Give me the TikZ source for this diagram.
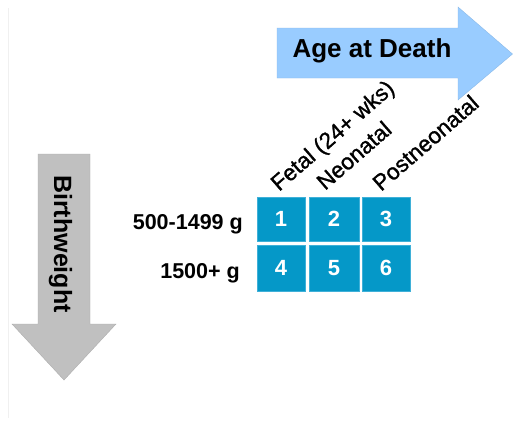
\documentclass[tikz,border=0pt]{standalone}
\usepackage{fontspec}
\setmainfont{Liberation Sans}
\newfontfamily\labfont{Liberation Sans}[FakeBold=1.2]
\definecolor{cellblue}{HTML}{0598C8}
\definecolor{celledge}{HTML}{3FB0D8}
\definecolor{arrowblue}{HTML}{99CCFF}
\definecolor{arrowgray}{HTML}{C0C0C0}
\definecolor{faint}{HTML}{F0F0F0}
\begin{document}
\begin{tikzpicture}[x=1pt,y=-1pt,
  cell/.style={fill=cellblue,draw=celledge,line width=0.6pt,text=white,
    font=\fontsize{22}{24}\selectfont\bfseries},
  rowlab/.style={font=\fontsize{21.5}{24}\selectfont\bfseries,anchor=base east,inner sep=0pt},
  collab/.style={font=\fontsize{22.5}{24}\labfont,anchor=base west,rotate=41,inner sep=0pt},
  arrowlab/.style={font=\fontsize{26}{30}\selectfont\bfseries,inner sep=0pt}]
\useasboundingbox (0,0) rectangle (513,423);
\fill[white] (0,0) rectangle (513,423);
\draw[faint,line width=0.8pt] (8.5,8) -- (8.5,418);
% blue arrow
\filldraw[fill=arrowblue,draw=arrowblue!85!black!60!arrowblue,line width=0.4pt]
  (277,28) -- (458,28) -- (458,7) -- (512.5,54) -- (458,100) -- (458,78) -- (277,78) -- cycle;
\node[arrowlab,anchor=base] (age) at (372,57) {Age at Death};
% gray arrow
\filldraw[fill=arrowgray,draw=arrowgray!90!black,line width=0.4pt]
  (38,154) -- (90,154) -- (90,324) -- (116,324) -- (64,380) -- (12,324) -- (38,324) -- cycle;
\node[arrowlab,anchor=base,rotate=-90,font=\fontsize{25}{30}\selectfont\bfseries] (bw) at (54,244) {Birthweight};
% cells
\node[cell,minimum width=48pt,minimum height=44pt] (c1) at (281,219) {1};
\node[cell,minimum width=50pt,minimum height=44pt] (c2) at (334,219) {2};
\node[cell,minimum width=48pt,minimum height=44pt] (c3) at (386,219) {3};
\node[cell,minimum width=48pt,minimum height=46pt] (c4) at (281,268) {4};
\node[cell,minimum width=50pt,minimum height=46pt] (c5) at (334,268) {5};
\node[cell,minimum width=48pt,minimum height=46pt] (c6) at (386,268) {6};
% row labels
\node[rowlab] (r1) at (243,229) {500-1499 g};
\node[rowlab] (r2) at (240,278) {1500+ g};
% column labels
\node[collab] (l1) at (279,192) {Fetal (24+ wks)};
\node[collab] (l2) at (325,191) {Neonatal};
\node[collab] (l3) at (381,192) {Postneonatal};
\end{tikzpicture}
\end{document}
